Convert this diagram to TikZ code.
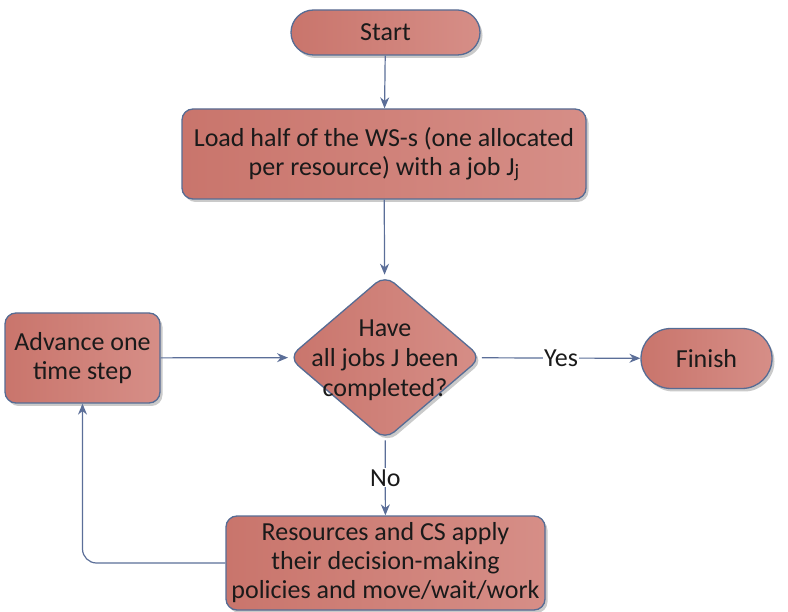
\documentclass[tikz,border=0pt]{standalone}
\usepackage{fontspec}
\setmainfont{Carlito}
\usetikzlibrary{shapes.geometric,shapes.misc,shadows,arrows.meta}

\definecolor{boxleft}{HTML}{C9756C}
\definecolor{boxright}{HTML}{D68E87}
\definecolor{boxedge}{HTML}{566C94}
\definecolor{flowline}{HTML}{5B6E98}
\definecolor{inktext}{HTML}{1A1A1A}

\tikzset{
  flowfont/.style={font=\fontsize{26}{29}\selectfont},
  flowshape/.style={draw=boxedge, line width=1.3pt, left color=boxleft, right color=boxright,
    drop shadow={shadow xshift=2.5pt, shadow yshift=-3pt, opacity=0.35, fill=black!60},
    text=inktext, flowfont, align=center, inner sep=0pt},
  terminal/.style={flowshape, rounded rectangle},
  process/.style={flowshape, rectangle, rounded corners=11pt},
  decision/.style={flowshape, diamond, rounded corners=12pt},
  flowarrow/.style={draw=flowline, line width=1.2pt, -{Stealth[length=11pt,width=9pt]}},
  flowlabel/.style={fill=white, text=inktext, flowfont, inner sep=1pt}
}

\begin{document}
\begin{tikzpicture}[x=1pt,y=-1pt]
  \useasboundingbox (0,0) rectangle (788,612);

  \node[terminal, minimum width=189pt, minimum height=45pt] (start) at (385.5,32.5) {Start};
  \node[process, minimum width=404pt, minimum height=90pt] (load) at (384,154)
    {Load half of the WS-s (one allocated\\per resource) with a job J\raisebox{-0.12ex}{\fontsize{19}{19}\selectfont j}};
  \node[decision, minimum width=193pt, minimum height=165pt] (check) at (385,357.5) {};
  \node[text=inktext, font=\fontsize{26}{30}\selectfont, align=center] (checktext) at (385,360)
    {Have\\all jobs J been\\completed?};
  \node[process, minimum width=155pt, minimum height=90pt] (advance) at (82.5,358)
    {Advance one\\time step};
  \node[terminal, minimum width=131pt, minimum height=60pt] (finish) at (706.5,358.5) {Finish};
  \node[process, minimum width=319pt, minimum height=94pt] (resources) at (385.5,563)
    {Resources and CS apply\\their decision-making\\policies and move/wait/work};

  \draw[flowarrow] (start) -- (load);
  \draw[flowarrow] (load) -- (check);
  \draw[flowarrow] (advance) -- (check);
  \draw[flowarrow] (check) -- node[flowlabel] {Yes} (finish);
  \draw[flowarrow] (check) -- node[flowlabel] {No} (resources);
  \draw[flowarrow, rounded corners=14pt] (resources.west) -| (advance.south);
\end{tikzpicture}
\end{document}
